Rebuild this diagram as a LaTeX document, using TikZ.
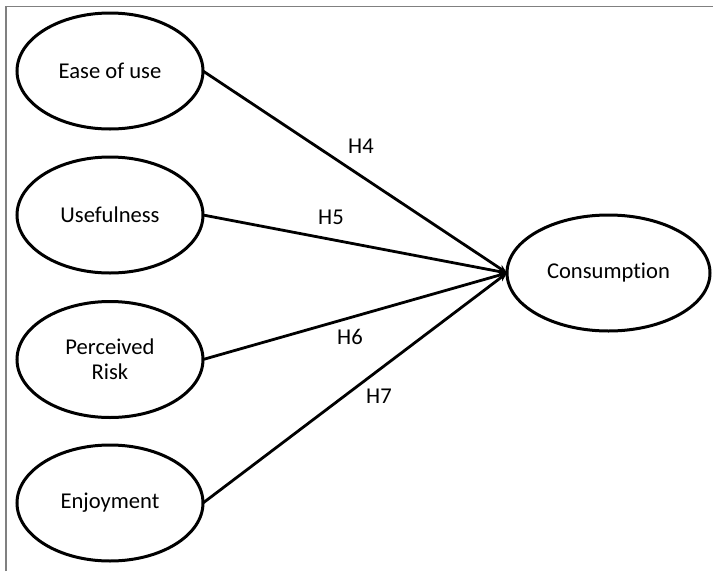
\documentclass[tikz,border=0pt]{standalone}
\usepackage{fontspec}
\setmainfont[Ligatures=NoCommon]{Carlito}
\usetikzlibrary{shapes.geometric,arrows.meta}

\begin{document}
\begin{tikzpicture}[x=1pt, y=-1pt,
      construct/.style={draw, ellipse, line width=3pt, inner sep=0pt, outer sep=0pt,
        minimum width=186pt, minimum height=116pt, align=center,
        font=\fontsize{22.6}{25}\selectfont},
      arrow/.style={-{Stealth[length=9pt,width=7.5pt]}, line width=2.8pt},
      hyp/.style={font=\fontsize{22.6}{25}\selectfont, inner sep=0pt}
    ]
      \useasboundingbox (0,0) rectangle (713,571);
      \draw[gray, line width=1.5pt] (6,571) -- (6,6.5) -- (713,6.5);

      \node[construct] (ease)  at (110,71)    {Ease of use};
      \node[construct] (useful) at (110,215)  {Usefulness};
      \node[construct] (risk)  at (110,359.5) {Perceived\\Risk};
      \node[construct] (enjoy) at (110,503)   {Enjoyment};
      \node[construct, minimum width=203pt] (cons) at (608.5,273) {Consumption};

      \draw[arrow] (ease.east) -- (cons.west);
      \draw[arrow] (useful.east) -- (cons.west);
      \draw[arrow] (risk.east) -- (cons.west);
      \draw[arrow] (enjoy.east) -- (cons.west);

      \node[hyp] (h4) at (361,146) {H4};
      \node[hyp] (h5) at (331,217) {H5};
      \node[hyp] (h6) at (350,337) {H6};
      \node[hyp] (h7) at (379,396) {H7};
    \end{tikzpicture}
\end{document}
